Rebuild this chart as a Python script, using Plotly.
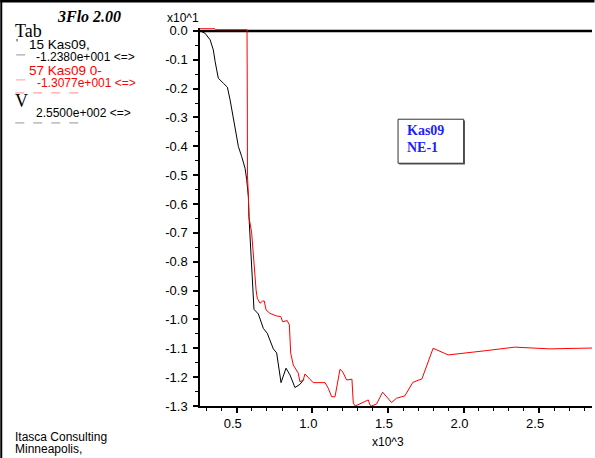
import plotly.graph_objects as go

# ---------------- data (real units; axes show x10^3 and x10^1) ----------------
black_x = [257, 290, 324, 345, 357, 378, 411, 438, 456, 478, 495, 511, 533, 555, 566, 577,
           581, 614, 643, 676, 702, 742, 764, 793, 826, 852, 885, 918, 945]
black_y = [0.0, -0.08, -0.31, -0.66, -1.06, -1.64, -1.81, -1.95, -2.39, -3.08, -3.55, -4.01,
           -4.36, -4.76, -5.16, -5.74, -6.44, -9.65, -9.81, -10.31, -10.48, -11.02, -11.16,
           -12.19, -11.69, -11.92, -12.36, -12.25, -12.07]

red_x = [257, 350, 360, 568, 570, 571, 577, 581, 599, 614, 628, 636, 654, 672, 682, 694, 720,
         764, 791, 804, 834, 848, 857, 874, 892, 907, 918, 940, 951, 984, 1006, 1039, 1084,
         1105, 1128, 1150, 1183, 1194, 1205, 1227, 1262, 1271, 1284, 1370, 1381, 1392, 1425,
         1465, 1491, 1524, 1557, 1612, 1665, 1725, 1799, 1899, 2152, 2339, 2571, 2857]
red_y = [0.09, 0.09, 0.04, 0.04, -2.5, -5.0, -5.74, -6.44, -7.01, -8.17, -8.98, -9.27, -9.44,
         -9.36, -9.36, -9.67, -9.79, -9.88, -9.90, -10.08, -10.04, -10.19, -11.17, -11.58,
         -11.75, -11.86, -12.16, -12.10, -11.89, -12.07, -12.19, -12.19, -12.19, -12.38,
         -12.68, -12.68, -11.73, -11.77, -11.86, -12.10, -12.07, -12.90, -13.0, -12.79,
         -12.96, -13.0, -12.93, -12.52, -12.68, -12.88, -12.73, -12.65, -12.18, -12.06,
         -11.00, -11.23, -11.08, -10.96, -11.02, -10.99]

x_tickvals = [500, 1000, 1500, 2000, 2500]
x_ticktext = ["0.5", "1.0", "1.5", "2.0", "2.5"]
y_tickvals = [0, -1, -2, -3, -4, -5, -6, -7, -8, -9, -10, -11, -12, -13]
y_ticktext = ["0.0", "-0.1", "-0.2", "-0.3", "-0.4", "-0.5", "-0.6", "-0.7", "-0.8", "-0.9",
              "-1.0", "-1.1", "-1.2", "-1.3"]

# ---------------- layout geometry ----------------
W, H = 595, 458
L, R, T, B = 200, 2.5, 28.1, 52
PW, PH = W - L - R, H - T - B


def px(x):
    return (x - L) / PW


def py(y):
    return (H - B - y) / PH


SANS = "Liberation Sans, Arial, sans-serif"
SERIF = "Liberation Serif, Times New Roman, serif"

fig = go.Figure()
fig.add_trace(go.Scatter(x=black_x, y=black_y, mode="lines",
                         line=dict(color="black", width=1), hoverinfo="skip"))
fig.add_trace(go.Scatter(x=red_x, y=red_y, mode="lines",
                         line=dict(color="#ff0000", width=1), hoverinfo="skip"))

shapes = []
# zero line at top of plot
shapes.append(dict(type="line", xref="paper", yref="y", x0=0, x1=1, y0=0, y1=0,
                   line=dict(color="black", width=2.5), layer="below"))
# page borders (top, left)
shapes.append(dict(type="rect", xref="paper", yref="paper", x0=px(0), x1=px(W),
                   y0=py(0), y1=py(2.7), fillcolor="black", line=dict(width=0)))
shapes.append(dict(type="rect", xref="paper", yref="paper", x0=px(0), x1=px(2),
                   y0=py(0), y1=py(H), fillcolor="black", line=dict(width=0)))
# label box with shadow
shapes.append(dict(type="rect", xref="paper", yref="paper", x0=px(399.5), x1=px(465.3),
                   y0=py(120.5), y1=py(164.6), fillcolor="#555", line=dict(width=0)))
shapes.append(dict(type="rect", xref="paper", yref="paper", x0=px(398.3), x1=px(464),
                   y0=py(119.3), y1=py(163.3), fillcolor="white",
                   line=dict(color="#333", width=1)))
# clipped legend line-style fragments
for (xa, xb, yy, col) in [(16, 32, 55, "rgba(80,80,80,0.6)"),
                          (16, 26, 80, "rgba(255,60,60,0.5)"),
                          (15, 80, 93, "rgba(255,60,60,0.6)"),
                          (15, 80, 123, "rgba(80,80,80,0.6)")]:
    shapes.append(dict(type="line", xref="paper", yref="paper", x0=px(xa), x1=px(xb),
                       y0=py(yy), y1=py(yy), line=dict(color=col, width=1, dash="dash")))

ann = []


def text(s, x, y, size, color="black", family=SANS, xanchor="left"):
    ann.append(dict(text=s, x=px(x), y=py(y), xref="paper", yref="paper", showarrow=False,
                    xanchor=xanchor, yanchor="middle", borderpad=0,
                    font=dict(size=size, color=color, family=family)))


text("<b><i>3Flo 2.00</i></b>", 56, 17, 16, family=SERIF)
text("Tab", 14, 31, 18, family=SERIF)
text("15 Kas09,", 28, 45, 13.5)
text("-1.2380e+001 <=>", 35, 57, 12)
text("57 Kas09 0-", 28, 71, 13.5, color="#ff0000")
text("-1.3077e+001 <=>", 36, 83, 12, color="#ff0000")
text("V", 14, 101, 18, family=SERIF)
text("2.5500e+002 <=>", 35, 113, 12)
text("'", 15, 44, 10)
text("Itasca Consulting", 14, 437, 12)
text("Minneapolis,", 14, 449, 12)
text("x10^1", 183, 18, 12, xanchor="center")
text("x10^3", 388, 442, 12, xanchor="center")
text("<b>Kas09</b>", 406, 131, 14, color="#1e1eff", family=SERIF)
text("<b>NE-1</b>", 406, 148, 14, color="#1e1eff", family=SERIF)

fig.update_layout(
    width=W, height=H, margin=dict(l=L, r=R, t=T, b=B, pad=0),
    paper_bgcolor="white", plot_bgcolor="white", showlegend=False,
    shapes=shapes, annotations=ann,
    xaxis=dict(range=[257, 2850], showgrid=False, zeroline=False, showline=True,
               linecolor="black", linewidth=1.5, ticks="outside", ticklen=5, tickwidth=1.5,
               tickcolor="black", tickmode="array", tickvals=x_tickvals, ticktext=x_ticktext,
               ticklabelshift=-4,
               tickfont=dict(family=SANS, size=13, color="black"),
               minor=dict(ticks="outside", ticklen=3, tickcolor="black", tickwidth=1,
                          tickmode="linear", tick0=0, dtick=100, showgrid=False)),
    yaxis=dict(range=[-13, 0.1], showgrid=False, zeroline=False, showline=True,
               linecolor="black", linewidth=1.5, ticks="outside", ticklen=5, tickwidth=1.5,
               tickcolor="black", tickmode="array", tickvals=y_tickvals, ticktext=y_ticktext,
               ticklabelstandoff=3,
               tickfont=dict(family=SANS, size=13, color="black"),
               minor=dict(ticks="outside", ticklen=3, tickcolor="black", tickwidth=1,
                          tickmode="linear", tick0=0.5, dtick=1, showgrid=False)),
)

fig.write_html("out.html")
